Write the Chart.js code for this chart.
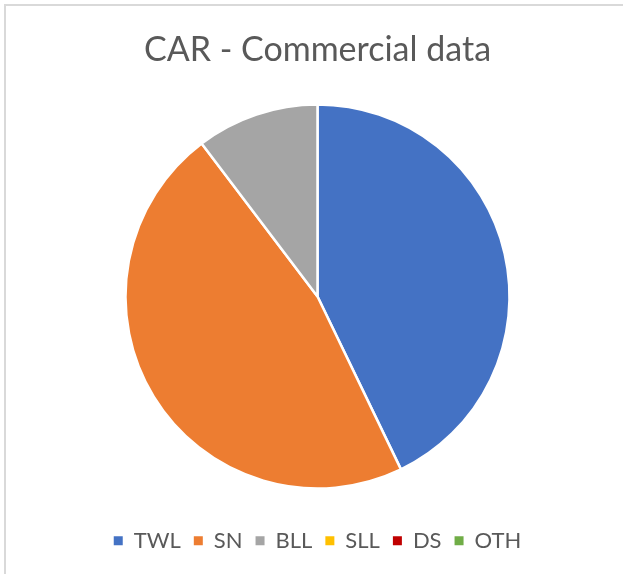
<!DOCTYPE html>
<html>
<head>
<meta charset="utf-8">
<script src="https://cdn.jsdelivr.net/npm/chart.js@4.4.1/dist/chart.umd.min.js"></script>
<style>
  html, body { margin: 0; padding: 0; background: #ffffff; }
  #wrap { position: relative; width: 623px; height: 574px; overflow: hidden; }
  #frame { position: absolute; left: 4px; top: 4px; width: 700px; height: 700px; border: 2px solid #d9d9d9; box-sizing: border-box; }
  #c { position: absolute; left: 0; top: 0; }
</style>
</head>
<body>
<div id="wrap">
  <div id="frame"></div>
  <canvas id="c" width="623" height="574"></canvas>
</div>
<script>
const titleText = "CAR - Commercial data";
const categories = ["TWL", "SN", "BLL", "SLL", "DS", "OTH"];
const values = [42.8, 46.8, 10.3, 0, 0, 0];
const colors = ["#4472C4", "#ED7D31", "#A5A5A5", "#FFC000", "#C00000", "#70AD47"];

const defaultLabels = Chart.controllers.pie.overrides.plugins.legend.labels.generateLabels;

new Chart(document.getElementById("c"), {
  type: "pie",
  data: {
    labels: categories,
    datasets: [{
      data: values,
      backgroundColor: colors,
      borderColor: "#ffffff",
      borderWidth: 2.5
    }]
  },
  options: {
    responsive: false,
    animation: false,
    devicePixelRatio: 1,
    radius: 192,
    events: [],
    layout: { padding: { left: 12, right: 0, top: 0, bottom: 12.3 } },
    plugins: {
      tooltip: { enabled: false },
      title: {
        display: true,
        text: titleText,
        color: "#595959",
        font: { family: "Lato", size: 34, weight: "normal", lineHeight: 1.2 },
        padding: { top: 29.5, bottom: 6 }
      },
      legend: {
        display: true,
        position: "bottom",
        labels: {
          color: "#595959",
          boxWidth: 9,
          boxHeight: 9,
          padding: 13,
          font: { family: "Lato", size: 22 },
          generateLabels: function (chart) {
            return defaultLabels(chart).map(function (item) {
              item.lineWidth = 0;
              item.strokeStyle = item.fillStyle;
              return item;
            });
          }
        }
      }
    }
  }
});
</script>
</body>
</html>
